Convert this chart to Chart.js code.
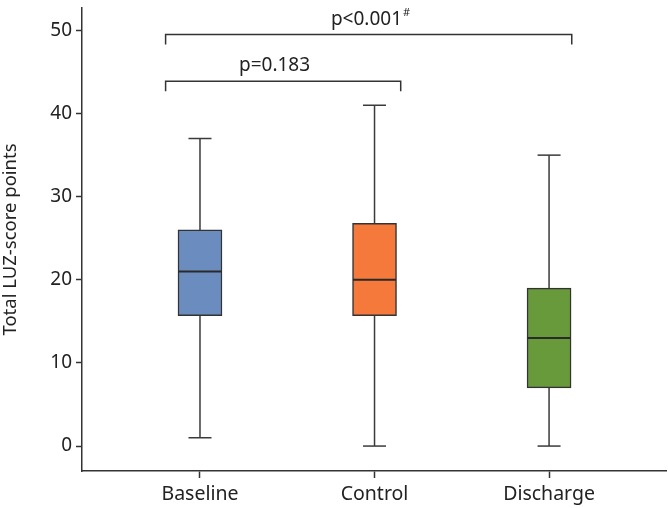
<!DOCTYPE html>
<html>
<head>
<meta charset="utf-8">
<script src="https://cdn.jsdelivr.net/npm/chart.js@4"></script>
<style>
  html, body { margin: 0; padding: 0; background: #ffffff; }
  #wrap { width: 668px; height: 508px; }
</style>
</head>
<body>
<div id="wrap"><canvas id="c" width="668" height="508"></canvas></div>
<script>
// ---- data ----
const categories = ['Baseline', 'Control', 'Discharge'];
const mins    = [1, 0, 0];
const q1s     = [15.7, 15.7, 7];
const medians = [21, 20, 13];
const q3s     = [26, 26.8, 19];
const maxs    = [37, 41, 35];
const boxColors = ['#6b8cbe', '#f4793b', '#689a3c'];
const yTicks = [0, 10, 20, 30, 40, 50];
const yTitle = 'Total LUZ-score points';

// significance brackets
const bracketText   = ['p=0.183', 'p<0.001'];
const bracketSup    = ['', '#'];
const bracketStart  = [-0.197, -0.197];
const bracketEnd    = [1.15, 2.13];
const bracketLevel  = [43.9, 49.5];
const bracketLabelX = [0.427, 0.977];

const FONT = '"Noto Sans", "DejaVu Sans", sans-serif';
const INK = '#333333';

const boxPlugin = {
  id: 'boxExtras',
  afterDatasetsDraw(chart) {
    const { ctx } = chart;
    const x = chart.scales.x, y = chart.scales.y;
    ctx.save();
    ctx.strokeStyle = '#3a3a3a';
    ctx.lineWidth = 1.5;
    const seg = (x1, y1, x2, y2) => { ctx.beginPath(); ctx.moveTo(x1, y1); ctx.lineTo(x2, y2); ctx.stroke(); };
    categories.forEach((c, i) => {
      const px = x.getPixelForValue(i);
      seg(px, y.getPixelForValue(q3s[i]), px, y.getPixelForValue(maxs[i]));
      seg(px, y.getPixelForValue(q1s[i]), px, y.getPixelForValue(mins[i]));
      seg(px - 11.5, y.getPixelForValue(maxs[i]), px + 11.5, y.getPixelForValue(maxs[i]));
      seg(px - 11.5, y.getPixelForValue(mins[i]), px + 11.5, y.getPixelForValue(mins[i]));
      ctx.save();
      ctx.strokeStyle = '#2a2a2a';
      ctx.lineWidth = 2;
      seg(px - 21.5, y.getPixelForValue(medians[i]), px + 21.5, y.getPixelForValue(medians[i]));
      ctx.restore();
    });
    // brackets
    ctx.strokeStyle = '#333';
    ctx.lineWidth = 1.5;
    bracketText.forEach((t, i) => {
      const xa = x.getPixelForValue(bracketStart[i]);
      const xb = x.getPixelForValue(bracketEnd[i]);
      const yy = y.getPixelForValue(bracketLevel[i]);
      ctx.beginPath();
      ctx.moveTo(xa, yy + 10);
      ctx.lineTo(xa, yy);
      ctx.lineTo(xb, yy);
      ctx.lineTo(xb, yy + 10);
      ctx.stroke();
      ctx.fillStyle = '#222';
      ctx.textBaseline = 'middle';
      ctx.textAlign = 'left';
      ctx.font = '19px ' + FONT;
      const w1 = ctx.measureText(t).width;
      ctx.font = '11px ' + FONT;
      const w2 = bracketSup[i] ? ctx.measureText(bracketSup[i]).width + 1 : 0;
      const cx = x.getPixelForValue(bracketLabelX[i]);
      const sx = cx - (w1 + w2) / 2;
      const ty = yy - 15.5;
      ctx.font = '19px ' + FONT;
      ctx.fillText(t, sx, ty);
      if (bracketSup[i]) {
        ctx.font = '11px ' + FONT;
        ctx.fillText(bracketSup[i], sx + w1 + 1, ty - 6);
      }
    });
    ctx.restore();
  }
};

new Chart(document.getElementById('c'), {
  type: 'bar',
  data: {
    datasets: [{
      data: categories.map((c, i) => ({ x: i, y: [q1s[i], q3s[i]] })),
      backgroundColor: boxColors,
      borderColor: '#333333',
      borderWidth: 1.5,
      borderSkipped: false,
      barThickness: 44
    }]
  },
  options: {
    responsive: false,
    animation: false,
    devicePixelRatio: 1,
    layout: { padding: { top: 8, right: 2, left: 0, bottom: 0 } },
    plugins: { legend: { display: false }, tooltip: { enabled: false } },
    scales: {
      x: {
        type: 'linear',
        offset: false,
        min: -0.676,
        max: 2.67,
        afterBuildTicks: (s) => { s.ticks = categories.map((c, i) => ({ value: i })); },
        afterFit: (s) => { s.height = 37; s.paddingLeft = 0; s.paddingRight = 0; },
        ticks: {
          callback: (v) => categories[v],
          color: '#222',
          font: { family: FONT, size: 19.5 },
          padding: 5,
          autoSkip: false,
          maxRotation: 0
        },
        grid: { offset: false, drawOnChartArea: false, drawTicks: true, tickLength: 7, tickColor: INK, tickWidth: 1.5 },
        border: { display: true, color: INK, width: 1.5 }
      },
      y: {
        type: 'linear',
        min: -3,
        max: 52.7,
        afterBuildTicks: (s) => { s.ticks = yTicks.map(v => ({ value: v })); },
        afterFit: (s) => { s.width = 82; s.paddingTop = 0; s.paddingBottom = 0; },
        ticks: {
          color: '#222',
          font: { family: FONT, size: 19 },
          padding: 4
        },
        title: {
          display: true,
          text: yTitle,
          color: '#222',
          font: { family: FONT, size: 18.5 },
          padding: { top: 0, bottom: 0 }
        },
        grid: { drawOnChartArea: false, drawTicks: true, tickLength: 6, tickColor: INK, tickWidth: 1.5 },
        border: { display: true, color: INK, width: 1.5 }
      }
    }
  },
  plugins: [boxPlugin]
});
</script>
</body>
</html>
